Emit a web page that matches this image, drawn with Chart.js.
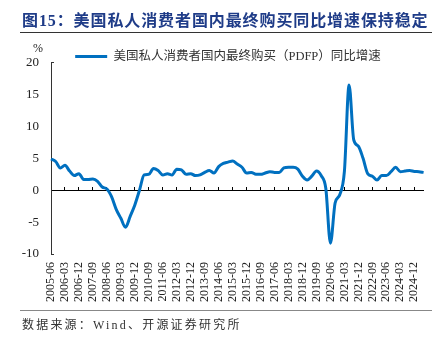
<!DOCTYPE html>
<html>
<head>
<meta charset="utf-8">
<script src="https://cdn.jsdelivr.net/npm/chart.js@4/dist/chart.umd.min.js"></script>
<style>
  body { margin: 0; background: #fff; }
  #wrap { position: relative; width: 446px; height: 342px; overflow: hidden; font-family: "Liberation Serif", "Noto Sans CJK SC", serif; }
  #chart { position: absolute; left: 0; top: 0; }
  .title { position: absolute; left: 22px; top: 7px; font-size: 16px; font-weight: bold; letter-spacing: 0.9px; color: #1F3C88; white-space: nowrap; }
  .rule-top { position: absolute; left: 20px; top: 32px; width: 412px; height: 1px; background: #333; }
  .rule-bottom { position: absolute; left: 20px; top: 310px; width: 412px; height: 1px; background: #888; }
  .unit { position: absolute; left: 33px; top: 41px; font-size: 12px; color: #222; }
  .source { position: absolute; left: 22px; top: 315px; font-size: 12px; letter-spacing: 2.2px; color: #333; white-space: nowrap; }
</style>
</head>
<body>
<div id="wrap">
  <canvas id="chart" width="446" height="342"></canvas>
  <div class="title">图15：美国私人消费者国内最终购买同比增速保持稳定</div>
  <div class="rule-top"></div>
  <div class="unit">%</div>
  <div class="rule-bottom"></div>
  <div class="source">数据来源：Wind、开源证券研究所</div>
</div>
<script>
// quarterly periods, 2005-06 .. 2025-06
const quarters = [
  '2005-06', '2005-09', '2005-12',
  '2006-03', '2006-06', '2006-09', '2006-12',
  '2007-03', '2007-06', '2007-09', '2007-12',
  '2008-03', '2008-06', '2008-09', '2008-12',
  '2009-03', '2009-06', '2009-09', '2009-12',
  '2010-03', '2010-06', '2010-09', '2010-12',
  '2011-03', '2011-06', '2011-09', '2011-12',
  '2012-03', '2012-06', '2012-09', '2012-12',
  '2013-03', '2013-06', '2013-09', '2013-12',
  '2014-03', '2014-06', '2014-09', '2014-12',
  '2015-03', '2015-06', '2015-09', '2015-12',
  '2016-03', '2016-06', '2016-09', '2016-12',
  '2017-03', '2017-06', '2017-09', '2017-12',
  '2018-03', '2018-06', '2018-09', '2018-12',
  '2019-03', '2019-06', '2019-09', '2019-12',
  '2020-03', '2020-06', '2020-09', '2020-12',
  '2021-03', '2021-06', '2021-09', '2021-12',
  '2022-03', '2022-06', '2022-09', '2022-12',
  '2023-03', '2023-06', '2023-09', '2023-12',
  '2024-03', '2024-06', '2024-09', '2024-12',
  '2025-03', '2025-06'
];

// PDFP yoy, %
const pdfpYoy = [
  4.9, 4.5, 3.5,
  3.9, 3.0, 2.3, 2.6,
  1.7, 1.7, 1.75, 1.4,
  0.5, 0.2, -1.0, -3.0,
  -4.4, -5.8, -4.1, -2.3,
  0.0, 2.4, 2.5, 3.4,
  3.1, 2.4, 2.6, 2.4,
  3.3, 3.2, 2.5, 2.6,
  2.3, 2.4, 2.8, 3.1,
  2.7, 3.7, 4.2, 4.4,
  4.6, 4.1, 3.6, 2.7,
  2.8, 2.5, 2.5, 2.7,
  2.9, 2.8, 2.8, 3.5,
  3.6, 3.6, 3.3, 2.2,
  1.6, 2.2, 3.0, 2.3,
  0.3, -8.3, -2.0, -0.7,
  3.0, 16.5, 7.9, 6.9,
  5.0, 2.6, 2.2, 1.6,
  2.3, 2.3, 2.9, 3.6,
  2.9, 3.0, 3.1, 2.95,
  2.9, 2.8
];

const yTicks = [-10, -5, 0, 5, 10, 15, 20];
const seriesName = '美国私人消费者国内最终购买（PDFP）同比增速';

const serif = '"Liberation Serif", "Noto Sans CJK SC", serif';
const labelEvery = 3;

new Chart(document.getElementById('chart'), {
  type: 'line',
  data: {
    labels: quarters,
    datasets: [{
      label: seriesName,
      data: pdfpYoy,
      xAxisID: 'x',
      yAxisID: 'y',
      borderColor: '#0070C0',
      backgroundColor: '#0070C0',
      borderWidth: 3,
      pointRadius: 0,
      cubicInterpolationMode: 'monotone',
      fill: false
    }]
  },
  options: {
    responsive: false,
    animation: false,
    devicePixelRatio: 1,
    layout: { padding: { top: 48.25, left: 18, right: 8, bottom: 32 } },
    plugins: {
      legend: {
        position: 'top',
        maxHeight: 14.45,
        labels: {
          usePointStyle: true,
          pointStyle: 'line',
          pointStyleWidth: 32,
          padding: 2,
          color: '#333',
          font: { family: serif, size: 12.5 }
        }
      },
      tooltip: { enabled: false }
    },
    scales: {
      // zero line with tick marks pointing up
      x: {
        type: 'category',
        position: { y: 0 },
        offset: false,
        border: { display: true, color: '#000', width: 1 },
        grid: {
          display: true,
          drawOnChartArea: false,
          drawTicks: true,
          tickLength: -4,
          color: ctx => (ctx.index % labelEvery === 0 ? '#000' : 'rgba(0,0,0,0)')
        },
        ticks: { display: false, autoSkip: false }
      },
      // bottom axis carrying the date labels
      x2: {
        type: 'category',
        position: 'bottom',
        offset: false,
        border: { display: false },
        grid: { display: false, drawTicks: false },
        ticks: {
          autoSkip: false,
          maxRotation: 90,
          minRotation: 90,
          padding: 8,
          color: '#222',
          font: { family: serif, size: 12 },
          callback: (v, i) => (i % labelEvery === 0 ? quarters[i] : '')
        },
        afterFit: scale => { scale.height = 56; }
      },
      y: {
        min: yTicks[0],
        max: yTicks[yTicks.length - 1],
        border: { display: true, color: '#333', width: 1 },
        grid: {
          drawOnChartArea: false,
          drawTicks: true,
          tickLength: -3,
          color: ctx => (ctx.index === 0 || ctx.index === yTicks.length - 1 ? '#333' : 'rgba(0,0,0,0)')
        },
        ticks: {
          stepSize: 5,
          padding: 15,
          color: '#222',
          font: { family: serif, size: 13 }
        },
        afterFit: scale => { scale.width = 33; }
      },
      // empty spacer on the right so the plot ends where the reference does
      yRight: {
        position: 'right',
        min: yTicks[0],
        max: yTicks[yTicks.length - 1],
        border: { display: false },
        grid: { display: false, drawTicks: false },
        ticks: { display: false },
        afterFit: scale => { scale.width = 11; }
      }
    }
  }
});
</script>
</body>
</html>
